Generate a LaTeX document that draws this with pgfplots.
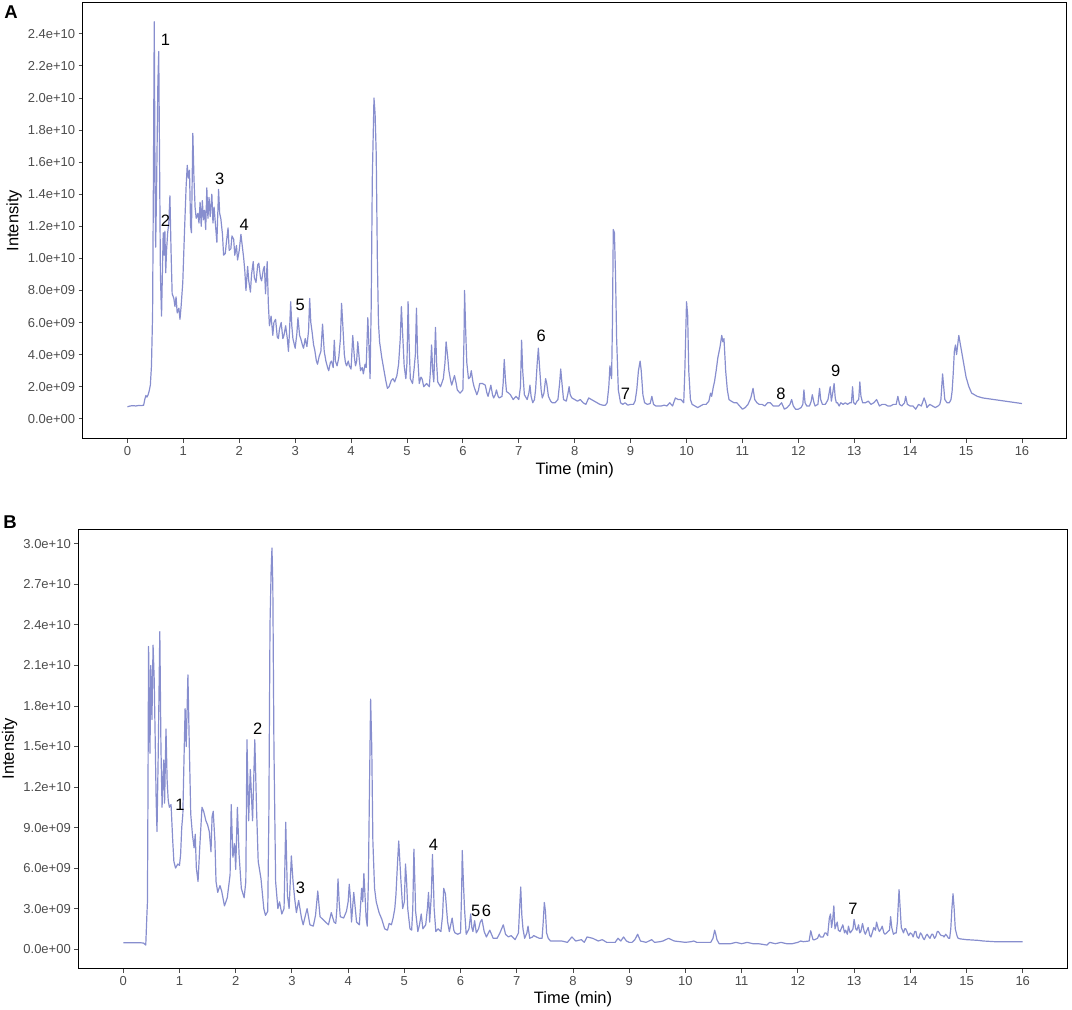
\documentclass[border=0pt]{standalone}
\usepackage{fontspec}
\setmainfont{Liberation Sans}
\usepackage{pgfplots}
\pgfplotsset{compat=1.18}
\definecolor{trace}{RGB}{135,142,206}
\definecolor{tickgray}{RGB}{77,77,77}

% intensities in units of 1e9
\pgfplotsset{chrom/.style={
    scale only axis, anchor=south west,
    xmin=-0.8, xmax=16.8, xtick={0,...,16},
    tick align=outside, tick pos=left, major tick length=4pt,
    tick style={tickgray, line width=0.9pt},
    axis line style={black, line width=0.9pt},
    every tick label/.append style={font=\fontsize{13}{15}\selectfont, text=tickgray},
    /pgf/number format/assume math mode=true,
  }
}
\tikzset{peak/.style={font=\fontsize{16.5}{18}\selectfont, text=black}}

\begin{document}
\begin{tikzpicture}
\path[use as bounding box] (0pt,0pt) rectangle (1072pt,1010pt);

% ---------- panel A ----------
\begin{axis}[chrom, at={(82.7pt,571.3pt)}, width=984pt, height=436pt,
    ymin=-1.24, ymax=25.94,
    ytick={0,2,...,24},
    yticklabels={0.0e+00,2.0e+09,4.0e+09,6.0e+09,8.0e+09,1.0e+10,1.2e+10,1.4e+10,1.6e+10,1.8e+10,2.0e+10,2.2e+10,2.4e+10}]
\addplot[trace, line width=1.2pt, line join=round] table {
x y
0.00 0.75
0.05 0.80
0.10 0.82
0.15 0.80
0.20 0.83
0.25 0.82
0.29 0.85
0.31 1.20
0.33 1.45
0.35 1.35
0.37 1.50
0.39 1.75
0.41 2.10
0.43 3.30
0.45 6.50
0.465 15.0
0.48 24.75
0.495 14.0
0.505 10.7
0.52 14.0
0.545 21.0
0.56 22.9
0.575 16.0
0.59 9.0
0.61 6.4
0.625 9.0
0.64 11.6
0.655 10.2
0.67 11.7
0.685 9.1
0.70 10.5
0.72 11.6
0.74 12.2
0.76 13.9
0.78 10.5
0.80 7.8
0.83 7.5
0.85 7.0
0.87 7.6
0.89 6.6
0.92 6.9
0.94 6.2
0.96 7.0
0.99 8.5
1.02 11.6
1.05 14.5
1.07 15.8
1.09 15.0
1.11 15.5
1.13 12.0
1.145 11.6
1.17 17.8
1.19 15.0
1.21 13.2
1.23 12.5
1.26 12.8
1.28 12.2
1.30 13.5
1.32 12.0
1.34 13.6
1.36 12.4
1.38 13.0
1.40 11.8
1.42 14.4
1.44 12.5
1.46 13.8
1.48 12.6
1.51 14.0
1.53 12.2
1.55 13.2
1.57 12.3
1.60 11.0
1.63 14.3
1.65 12.8
1.67 12.5
1.70 11.5
1.72 10.2
1.75 10.3
1.77 11.0
1.80 11.9
1.82 10.5
1.85 10.6
1.87 11.4
1.90 11.2
1.92 10.2
1.95 10.8
1.97 9.9
2.00 10.5
2.03 11.5
2.05 10.9
2.08 10.0
2.10 9.2
2.12 8.0
2.15 9.5
2.17 8.6
2.20 7.9
2.22 9.0
2.25 9.8
2.27 8.8
2.30 8.5
2.33 9.6
2.35 9.7
2.38 8.8
2.40 8.6
2.43 9.3
2.45 9.5
2.47 7.8
2.50 9.8
2.52 7.2
2.54 5.8
2.57 6.4
2.60 5.2
2.62 6.0
2.65 6.2
2.68 5.1
2.70 5.0
2.72 5.6
2.75 6.0
2.78 5.0
2.80 5.2
2.83 5.8
2.86 5.0
2.88 4.2
2.90 5.5
2.92 7.3
2.94 5.8
2.96 5.0
3.00 4.4
3.03 5.3
3.05 6.3
3.08 5.2
3.10 5.0
3.13 4.6
3.15 4.4
3.18 5.0
3.21 4.5
3.24 5.5
3.26 7.5
3.28 6.0
3.30 5.5
3.33 4.6
3.35 4.3
3.38 3.6
3.40 3.4
3.43 3.9
3.46 4.2
3.49 5.9
3.52 4.2
3.55 3.6
3.58 3.2
3.60 3.0
3.63 3.5
3.65 3.6
3.68 3.2
3.70 4.9
3.72 3.6
3.75 3.3
3.78 3.8
3.81 5.0
3.83 7.2
3.85 6.0
3.88 4.0
3.90 3.5
3.92 3.3
3.95 3.6
3.97 3.3
4.00 3.1
4.03 5.2
4.06 3.8
4.08 3.3
4.10 3.6
4.12 4.8
4.15 3.6
4.17 3.0
4.20 3.2
4.22 2.8
4.25 3.4
4.27 3.2
4.30 6.3
4.32 4.5
4.34 2.5
4.36 7.0
4.38 15.0
4.41 20.0
4.43 19.0
4.45 16.5
4.47 10.0
4.49 6.0
4.51 4.8
4.55 3.8
4.58 3.2
4.62 2.4
4.65 1.9
4.68 2.0
4.72 2.4
4.75 2.5
4.78 2.3
4.82 2.7
4.85 3.4
4.88 5.0
4.90 7.0
4.92 5.5
4.95 3.3
4.98 2.5
5.00 3.5
5.02 7.3
5.04 4.5
5.06 2.5
5.10 2.2
5.13 3.2
5.15 4.0
5.17 6.9
5.19 4.0
5.22 2.2
5.25 2.6
5.27 2.5
5.30 2.0
5.35 2.2
5.40 2.0
5.42 3.0
5.44 4.6
5.46 3.0
5.48 2.3
5.51 5.7
5.53 3.5
5.55 2.3
5.60 2.0
5.65 2.5
5.68 3.5
5.70 4.8
5.73 3.8
5.75 3.0
5.78 2.4
5.80 2.1
5.85 2.7
5.88 2.2
5.90 1.8
5.95 1.6
6.00 1.8
6.02 5.0
6.03 8.0
6.05 5.5
6.07 3.5
6.10 2.5
6.13 2.6
6.15 3.0
6.18 2.3
6.20 2.0
6.25 1.5
6.28 1.8
6.30 2.2
6.35 2.2
6.40 2.1
6.43 1.6
6.45 1.4
6.48 1.8
6.50 2.1
6.53 1.5
6.55 1.3
6.58 1.5
6.60 1.8
6.63 1.4
6.65 1.3
6.70 1.4
6.72 2.2
6.74 3.7
6.76 2.5
6.78 1.7
6.82 1.6
6.85 1.5
6.90 1.2
6.95 1.4
7.00 1.2
7.03 2.0
7.05 4.9
7.07 3.0
7.10 1.5
7.15 1.2
7.18 1.6
7.20 2.1
7.22 1.4
7.25 1.0
7.28 1.2
7.30 1.8
7.33 3.5
7.35 4.4
7.37 3.3
7.40 1.8
7.42 1.3
7.45 1.6
7.48 2.5
7.50 2.2
7.53 1.4
7.57 1.1
7.60 1.0
7.65 1.0
7.70 1.2
7.73 2.2
7.75 3.1
7.77 2.3
7.80 1.2
7.85 1.1
7.88 1.6
7.90 2.0
7.92 1.5
7.95 1.3
8.00 1.2
8.05 1.1
8.10 1.2
8.15 1.0
8.20 0.9
8.25 1.3
8.30 1.2
8.35 1.1
8.40 1.0
8.45 0.9
8.50 0.85
8.55 0.85
8.58 1.0
8.61 2.0
8.63 3.3
8.65 2.7
8.66 2.5
8.675 6.0
8.69 11.8
8.71 11.6
8.73 9.0
8.75 5.0
8.78 1.8
8.82 1.0
8.86 0.9
8.90 1.0
8.95 0.85
9.00 0.9
9.05 0.9
9.08 1.1
9.11 1.8
9.14 3.0
9.17 3.6
9.19 3.0
9.22 1.5
9.25 1.0
9.30 0.9
9.35 0.95
9.38 1.4
9.41 0.9
9.45 0.8
9.50 0.8
9.55 0.8
9.60 0.85
9.65 0.8
9.70 1.0
9.75 0.8
9.80 1.3
9.85 1.2
9.90 1.2
9.95 1.0
9.97 3.0
10.00 7.3
10.02 6.5
10.04 3.0
10.07 1.2
10.10 0.9
10.15 0.8
10.20 0.7
10.25 0.8
10.30 0.9
10.35 0.9
10.40 1.1
10.43 1.6
10.45 1.4
10.48 2.0
10.50 2.3
10.53 3.0
10.56 3.8
10.60 4.5
10.63 5.2
10.65 4.8
10.67 5.0
10.70 3.0
10.73 1.8
10.76 1.2
10.80 1.1
10.85 1.0
10.90 1.0
10.95 0.8
11.00 0.6
11.05 0.7
11.10 0.9
11.15 1.3
11.19 1.9
11.22 1.2
11.26 1.0
11.30 0.9
11.35 0.9
11.40 0.8
11.45 1.0
11.50 1.0
11.55 0.8
11.60 0.8
11.65 0.8
11.70 1.0
11.75 0.6
11.80 0.7
11.85 0.9
11.88 1.2
11.91 0.8
11.95 0.6
12.00 0.6
12.05 0.7
12.08 0.9
12.10 1.8
12.12 1.0
12.15 0.8
12.20 0.8
12.23 1.1
12.25 1.5
12.28 1.0
12.30 0.8
12.35 0.9
12.38 1.9
12.40 1.2
12.43 0.9
12.48 0.9
12.50 1.0
12.53 1.2
12.55 1.6
12.57 2.0
12.59 1.1
12.61 1.5
12.64 2.2
12.66 1.3
12.68 1.0
12.70 1.0
12.73 0.8
12.76 1.0
12.80 0.9
12.84 1.0
12.88 0.9
12.92 1.0
12.95 1.0
12.97 2.0
12.99 1.0
13.02 0.9
13.05 1.1
13.08 1.2
13.10 2.3
13.12 1.4
13.15 1.0
13.20 1.0
13.25 1.1
13.30 0.9
13.35 1.0
13.40 1.2
13.45 0.8
13.50 0.9
13.55 0.9
13.60 0.8
13.65 0.8
13.70 0.9
13.75 0.9
13.78 1.4
13.81 0.9
13.85 0.8
13.90 1.0
13.92 1.4
13.95 0.9
14.00 0.8
14.05 0.8
14.10 0.6
14.15 0.9
14.20 0.8
14.25 1.3
14.28 1.0
14.30 0.7
14.35 0.9
14.40 0.8
14.45 0.7
14.50 0.8
14.53 0.9
14.55 1.2
14.58 2.8
14.60 2.0
14.62 1.2
14.66 1.0
14.70 1.0
14.73 1.2
14.75 1.7
14.77 2.8
14.79 4.2
14.81 4.6
14.83 4.0
14.85 4.6
14.87 5.2
14.89 4.8
14.92 4.2
14.95 3.6
14.98 3.0
15.00 2.6
15.05 2.0
15.10 1.6
15.15 1.5
15.20 1.4
15.30 1.3
15.40 1.25
15.50 1.2
15.60 1.15
15.70 1.1
15.80 1.05
15.90 1.0
16.00 0.95
};
\node[peak] at (axis cs:0.68,23.65) {1};
\node[peak] at (axis cs:0.68,12.36) {2};
\node[peak] at (axis cs:1.65,14.99) {3};
\node[peak] at (axis cs:2.09,12.07) {4};
\node[peak] at (axis cs:3.09,7.09) {5};
\node[peak] at (axis cs:7.40,5.20) {6};
\node[peak] at (axis cs:8.91,1.55) {7};
\node[peak] at (axis cs:11.69,1.55) {8};
\node[peak] at (axis cs:12.67,3.02) {9};
\end{axis}

% ---------- panel B ----------
\begin{axis}[chrom, at={(78.3pt,41.3pt)}, width=989.4pt, height=439.7pt,
    ymin=-1.45, ymax=31.1,
    ytick={0,3,...,30},
    yticklabels={0.0e+00,3.0e+09,6.0e+09,9.0e+09,1.2e+10,1.5e+10,1.8e+10,2.1e+10,2.4e+10,2.7e+10,3.0e+10}]
\addplot[trace, line width=1.2pt, line join=round] table {
x y
0.00 0.47
0.10 0.47
0.20 0.47
0.30 0.47
0.36 0.45
0.40 0.30
0.42 2.5
0.43 3.5
0.44 12.0
0.45 22.4
0.465 18.0
0.475 14.5
0.49 21.0
0.51 17.0
0.53 22.5
0.55 20.0
0.57 15.0
0.585 11.0
0.60 8.7
0.62 14.0
0.65 23.5
0.67 15.0
0.69 10.5
0.71 13.0
0.72 14.0
0.735 10.8
0.745 13.0
0.76 16.3
0.78 12.5
0.80 11.0
0.82 10.5
0.85 10.7
0.88 8.0
0.90 6.5
0.93 6.0
0.97 6.3
1.00 6.2
1.02 7.0
1.04 9.0
1.06 10.0
1.08 14.0
1.10 17.8
1.12 15.0
1.15 20.3
1.17 16.0
1.20 10.0
1.23 8.5
1.26 7.5
1.28 8.5
1.30 6.0
1.33 5.0
1.36 7.5
1.40 10.5
1.43 10.2
1.47 9.5
1.50 9.2
1.53 8.7
1.56 7.2
1.58 9.8
1.60 10.2
1.63 8.0
1.65 5.0
1.68 4.2
1.72 4.7
1.75 4.3
1.80 3.2
1.85 3.8
1.90 5.5
1.92 10.7
1.95 6.8
1.98 7.8
2.00 5.9
2.03 10.5
2.06 7.0
2.10 4.5
2.15 3.8
2.18 5.0
2.20 15.5
2.23 9.5
2.26 13.3
2.30 9.5
2.34 15.5
2.37 10.5
2.40 6.5
2.45 5.2
2.50 3.0
2.53 2.5
2.57 2.8
2.59 10.0
2.61 24.0
2.63 28.0
2.645 29.7
2.66 27.0
2.68 15.0
2.71 5.0
2.75 3.0
2.78 3.5
2.82 2.6
2.86 3.0
2.89 9.4
2.92 4.0
2.95 3.0
2.99 6.9
3.02 5.0
3.05 3.7
3.08 2.7
3.12 3.6
3.17 2.3
3.20 1.8
3.24 2.5
3.27 3.0
3.32 1.8
3.38 1.7
3.42 2.5
3.46 4.3
3.50 2.4
3.55 2.2
3.60 2.0
3.65 1.8
3.70 2.7
3.75 2.0
3.78 1.9
3.80 3.0
3.82 5.2
3.84 3.5
3.86 2.4
3.92 2.3
3.97 2.8
4.00 3.5
4.02 4.8
4.04 3.8
4.06 2.0
4.10 4.2
4.15 2.0
4.20 1.8
4.24 4.5
4.26 3.5
4.28 5.6
4.30 4.0
4.32 2.3
4.34 1.7
4.36 5.0
4.38 12.0
4.40 18.5
4.42 15.0
4.44 8.0
4.47 4.5
4.50 3.5
4.55 2.7
4.60 2.2
4.65 1.5
4.70 1.4
4.73 1.9
4.77 1.8
4.80 2.3
4.83 3.0
4.85 4.0
4.88 6.5
4.90 8.0
4.92 6.5
4.94 5.0
4.97 3.0
5.00 3.5
5.02 6.3
5.04 5.0
5.06 3.0
5.10 1.5
5.13 1.4
5.15 3.0
5.17 7.4
5.19 4.5
5.20 2.8
5.24 1.3
5.27 1.8
5.30 2.6
5.33 1.5
5.38 1.8
5.41 3.0
5.43 4.2
5.45 2.0
5.48 4.0
5.50 7.0
5.52 4.5
5.53 3.0
5.56 1.3
5.60 1.5
5.65 1.3
5.68 2.5
5.70 4.5
5.73 4.1
5.75 3.0
5.77 2.0
5.80 1.3
5.85 2.3
5.88 1.4
5.90 1.2
5.95 1.1
6.00 1.2
6.02 4.5
6.03 7.3
6.05 5.0
6.07 3.0
6.10 1.1
6.15 1.5
6.18 2.6
6.20 1.6
6.22 1.3
6.25 2.1
6.28 1.2
6.32 1.5
6.35 2.0
6.38 2.2
6.42 1.3
6.46 0.9
6.52 1.4
6.58 0.8
6.65 0.8
6.70 1.2
6.76 1.8
6.80 1.1
6.85 0.9
6.90 1.0
6.97 0.7
7.03 1.2
7.05 3.0
7.07 4.6
7.09 2.5
7.11 1.5
7.14 0.8
7.18 1.2
7.20 1.7
7.23 0.8
7.28 0.9
7.30 1.0
7.35 0.9
7.40 0.8
7.45 0.8
7.47 2.0
7.49 3.45
7.51 2.8
7.53 1.2
7.56 0.8
7.60 0.6
7.70 0.6
7.80 0.6
7.90 0.5
7.98 0.9
8.05 0.6
8.10 0.65
8.15 0.7
8.20 0.5
8.25 0.9
8.30 0.85
8.35 0.8
8.40 0.7
8.45 0.6
8.52 0.7
8.60 0.5
8.70 0.5
8.75 0.5
8.80 0.8
8.85 0.6
8.90 0.9
8.95 0.6
9.00 0.5
9.05 0.5
9.10 0.7
9.15 1.1
9.20 0.6
9.30 0.5
9.40 0.7
9.45 0.5
9.55 0.55
9.60 0.6
9.70 0.8
9.80 0.6
9.90 0.55
10.00 0.5
10.10 0.55
10.15 0.6
10.20 0.5
10.30 0.5
10.45 0.5
10.49 0.8
10.52 1.4
10.54 1.1
10.56 0.7
10.60 0.4
10.70 0.4
10.80 0.4
10.90 0.5
11.00 0.4
11.10 0.5
11.20 0.4
11.30 0.4
11.45 0.3
11.50 0.5
11.60 0.4
11.70 0.5
11.80 0.4
11.90 0.4
12.00 0.5
12.05 0.6
12.10 0.55
12.20 0.6
12.23 1.36
12.25 1.0
12.27 0.7
12.30 0.7
12.35 0.8
12.38 1.1
12.40 0.9
12.45 0.9
12.48 1.2
12.50 1.2
12.53 1.0
12.56 2.3
12.58 2.6
12.60 1.6
12.62 2.2
12.64 3.2
12.66 1.5
12.70 2.0
12.72 1.4
12.75 1.3
12.78 1.6
12.80 1.8
12.83 1.2
12.85 1.4
12.88 1.1
12.90 1.7
12.93 1.2
12.95 1.3
12.98 1.5
13.00 2.2
13.03 1.5
13.05 1.4
13.08 1.8
13.10 1.2
13.12 1.3
13.15 1.9
13.18 1.3
13.20 1.1
13.23 1.4
13.25 1.6
13.28 1.0
13.30 0.9
13.33 1.3
13.35 1.6
13.38 1.4
13.40 2.0
13.43 1.5
13.45 1.3
13.48 1.5
13.50 1.7
13.53 1.2
13.55 1.1
13.58 1.2
13.60 1.3
13.63 1.4
13.65 2.4
13.67 1.6
13.70 1.1
13.73 1.2
13.75 1.2
13.77 2.0
13.80 4.4
13.82 3.0
13.84 1.6
13.86 1.4
13.88 1.2
13.90 1.5
13.92 1.5
13.95 1.2
13.97 1.0
14.00 1.2
14.03 1.1
14.05 0.9
14.08 1.3
14.10 1.3
14.12 0.9
14.15 0.8
14.18 1.2
14.20 1.1
14.23 0.8
14.25 0.7
14.28 1.0
14.30 1.1
14.33 0.9
14.35 0.8
14.38 1.1
14.40 1.1
14.43 0.8
14.45 0.9
14.48 1.3
14.50 1.3
14.53 1.1
14.55 1.0
14.58 1.0
14.60 0.9
14.63 1.1
14.65 1.0
14.68 0.8
14.70 0.8
14.72 1.5
14.74 3.0
14.76 4.1
14.78 3.0
14.80 1.5
14.83 1.0
14.85 0.8
14.90 0.75
15.00 0.7
15.20 0.65
15.30 0.6
15.50 0.55
15.60 0.55
15.80 0.55
16.00 0.55
};
\node[peak] at (axis cs:1.01,10.66) {1};
\node[peak] at (axis cs:2.39,16.3) {2};
\node[peak] at (axis cs:3.15,4.56) {3};
\node[peak] at (axis cs:5.52,7.7) {4};
\node[peak] at (axis cs:6.27,2.84) {5};
\node[peak] at (axis cs:6.46,2.84) {6};
\node[peak] at (axis cs:12.98,2.96) {7};
\end{axis}

% axis titles and panel letters
\node[font=\fontsize{16.5}{18}\selectfont, rotate=90] at (14pt,789.3pt) {Intensity};
\node[font=\fontsize{16.5}{18}\selectfont] at (574.7pt,540pt) {Time (min)};
\node[font=\fontsize{16.5}{18}\selectfont, rotate=90] at (9.5pt,261.2pt) {Intensity};
\node[font=\fontsize{16.5}{18}\selectfont] at (573pt,11pt) {Time (min)};
\node[font=\bfseries\fontsize{18.5}{20}\selectfont] at (11pt,997.5pt) {A};
\node[font=\bfseries\fontsize{18.5}{20}\selectfont] at (10pt,488pt) {B};
\end{tikzpicture}
\end{document}
